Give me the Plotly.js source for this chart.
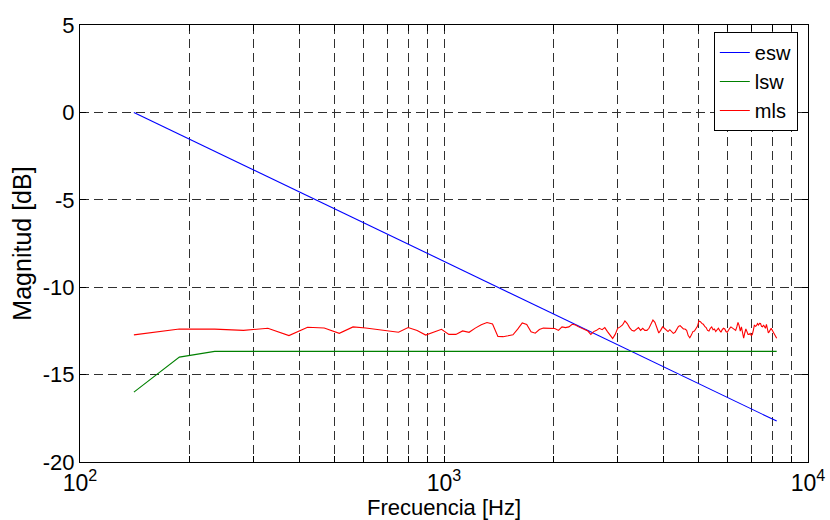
<!DOCTYPE html>
<html>
<head>
<meta charset="utf-8">
<script src="https://cdn.plot.ly/plotly-3.0.1.min.js"></script>
<style>html,body{margin:0;padding:0;background:#fff;}#chart{width:830px;height:520px;}</style>
</head>
<body>
<div id="chart"></div>
<script>
// esw: straight line on log axis (endpoints)
const eswFreq = [140.625, 8203.125];
const eswDb = [0.0, -17.66];

// lsw
const lswFreq = [140.625, 187.5, 234.375, 8203.125];
const lswDb = [-16.0, -14.0, -13.67, -13.67];

// mls
const mlsFreq = [140.625,187.5,234.375,281.25,328.125,375,421.875,468.75,515.625,562.5,609.375,656.25,703.125,750,796.875,843.75,890.625,937.5,984.375,1031.25,1078.125,1125,1171.875,1218.75,1265.625,1312.5,1359.375,1406.25,1453.125,1500,1546.875,1593.75,1640.625,1687.5,1734.375,1781.25,1828.125,1875,1921.875,1968.75,2015.625,2062.5,2109.375,2156.25,2203.125,2250,2296.875,2343.75,2390.625,2437.5,2484.375,2531.25,2578.125,2625,2671.875,2718.75,2765.625,2812.5,2859.375,2906.25,2953.125,3000,3046.875,3093.75,3140.625,3187.5,3234.375,3281.25,3328.125,3375,3421.875,3468.75,3515.625,3562.5,3609.375,3656.25,3703.125,3750,3796.875,3843.75,3890.625,3937.5,3984.375,4031.25,4078.125,4125,4171.875,4218.75,4265.625,4312.5,4359.375,4406.25,4453.125,4500,4546.875,4593.75,4640.625,4687.5,4734.375,4781.25,4828.125,4875,4921.875,4968.75,5015.625,5062.5,5109.375,5156.25,5203.125,5250,5296.875,5343.75,5390.625,5437.5,5484.375,5531.25,5578.125,5625,5671.875,5718.75,5765.625,5812.5,5859.375,5906.25,5953.125,6000,6046.875,6093.75,6140.625,6187.5,6234.375,6281.25,6328.125,6375,6421.875,6468.75,6515.625,6562.5,6609.375,6656.25,6703.125,6750,6796.875,6843.75,6890.625,6937.5,6984.375,7031.25,7078.125,7125,7171.875,7218.75,7265.625,7312.5,7359.375,7406.25,7453.125,7500,7546.875,7593.75,7640.625,7687.5,7734.375,7781.25,7828.125,7875,7921.875,7968.75,8015.625,8062.5,8109.375,8156.25,8203.125];
const mlsDb = [
-12.73,-12.39,-12.40,-12.47,-12.35,-12.77,-12.29,-12.33,-12.64,-12.27,
-12.33,-12.41,-12.50,-12.58,-12.31,-12.48,-12.74,-12.59,-12.41,-12.70,
-12.70,-12.50,-12.58,-12.34,-12.15,-12.02,-12.10,-12.82,-12.83,-12.78,
-12.72,-12.40,-12.04,-12.13,-12.55,-12.63,-12.42,-12.34,-12.36,-12.36,
-12.36,-12.47,-12.27,-12.31,-12.27,-12.12,-12.16,-12.27,-12.35,-12.47,
-12.51,-12.70,-12.54,-12.47,-12.35,-12.43,-12.31,-12.54,-12.74,-12.93,
-12.70,-12.35,-12.27,-12.16,-11.93,-12.08,-12.31,-12.47,-12.51,-12.39,
-12.31,-12.47,-12.35,-12.47,-12.47,-12.35,-12.12,-11.88,-12.01,-12.39,
-12.62,-12.47,-12.27,-12.35,-12.43,-12.54,-12.43,-12.51,-12.64,-12.58,
-12.43,-12.24,-12.20,-12.31,-12.39,-12.39,-12.47,-12.77,-12.89,-12.74,
-12.54,-12.51,-12.39,-12.24,-11.93,-11.97,-12.07,-12.12,-12.24,-12.31,
-12.47,-12.51,-12.35,-12.27,-12.43,-12.39,-12.54,-12.43,-12.35,-12.47,
-12.58,-12.43,-12.35,-12.39,-12.54,-12.58,-12.43,-12.35,-12.27,-12.31,
-12.35,-12.39,-12.47,-12.27,-12.01,-12.20,-12.51,-12.27,-12.73,-12.92,
-12.62,-12.39,-12.54,-12.70,-12.70,-12.64,-12.77,-12.70,-12.45,-12.16,
-12.24,-12.20,-12.08,-12.16,-12.07,-12.08,-12.24,-12.27,-12.16,-12.27,
-12.35,-12.12,-12.43,-12.62,-12.54,-12.39,-12.35,-12.45,-12.54,-12.62,
-12.66,-12.82,-12.92];

// axis ticks
const xMajorVals = [100, 1000, 10000];
const xMajorText = ['10<sup>2</sup>', '10<sup>3</sup>', '10<sup>4</sup>'];
const xMinorVals = [200,300,400,500,600,700,800,900,2000,3000,4000,5000,6000,7000,8000,9000];
const yTickVals = [-20,-15,-10,-5,0,5];
const yTickText = ['-20','-15','-10','-5','0','5'];

const fontFam = 'Liberation Sans, Arial, Helvetica, sans-serif';
const gridCol = '#303030';
const gridDash = '9px,5px';

const traces = [
  {x: eswFreq, y: eswDb, name: 'esw', type: 'scatter', mode: 'lines', line: {color: '#0000ff', width: 1.1}},
  {x: lswFreq, y: lswDb, name: 'lsw', type: 'scatter', mode: 'lines', line: {color: '#008000', width: 1.1}},
  {x: mlsFreq, y: mlsDb, name: 'mls', type: 'scatter', mode: 'lines', line: {color: '#ff0000', width: 1.1}}
];

const layout = {
  width: 830, height: 520,
  margin: {l: 80, r: 22, t: 25, b: 58},
  paper_bgcolor: '#fff', plot_bgcolor: '#fff',
  font: {family: fontFam, size: 22, color: '#000'},
  showlegend: true,
  legend: {
    x: 0.986, y: 0.984, xanchor: 'right', yanchor: 'top',
    bgcolor: '#fff', bordercolor: '#000', borderwidth: 1,
    font: {family: fontFam, size: 20, color: '#000'},
    tracegroupgap: 0, itemwidth: 30
  },
  xaxis: {
    type: 'log', range: [2, 4], autorange: false,
    tickmode: 'array', tickvals: xMajorVals, ticktext: xMajorText,
    ticks: 'inside', ticklen: 6, tickcolor: '#000', tickwidth: 1,
    showline: true, linecolor: '#000', linewidth: 1, mirror: 'allticks',
    showgrid: true, gridcolor: gridCol, gridwidth: 1, griddash: gridDash,
    minor: {tickmode: 'array', tickvals: xMinorVals, ticks: 'inside', ticklen: 6, tickcolor: '#000',
            showgrid: true, gridcolor: gridCol, gridwidth: 1, griddash: gridDash},
    zeroline: false,
    tickfont: {family: fontFam, size: 23, color: '#000'},
    title: {text: 'Frecuencia [Hz]', font: {family: fontFam, size: 22, color: '#000'}, standoff: 2}
  },
  yaxis: {
    range: [-20, 5], autorange: false,
    tickmode: 'array', tickvals: yTickVals, ticktext: yTickText,
    ticks: 'inside', ticklen: 6, tickcolor: '#000', tickwidth: 1,
    showline: true, linecolor: '#000', linewidth: 1, mirror: 'allticks',
    showgrid: true, gridcolor: gridCol, gridwidth: 1, griddash: gridDash,
    zeroline: false,
    tickfont: {family: fontFam, size: 22, color: '#000'},
    title: {text: 'Magnitud [dB]', font: {family: fontFam, size: 25, color: '#000'}, standoff: 4}
  }
};

Plotly.newPlot('chart', traces, layout, {displayModeBar: false, staticPlot: true});
</script>
</body>
</html>
